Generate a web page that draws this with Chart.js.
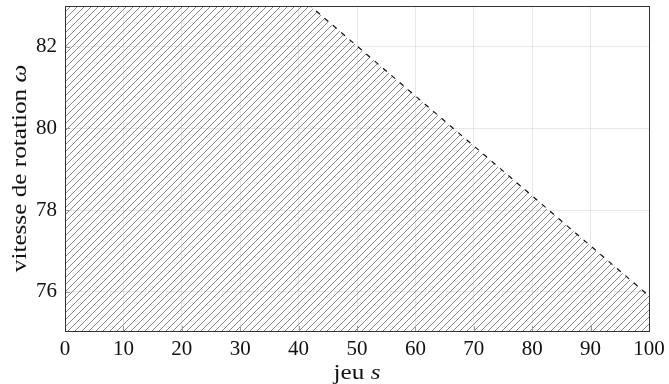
<!DOCTYPE html>
<html>
<head>
<meta charset="utf-8">
<script src="https://cdn.jsdelivr.net/npm/chart.js@4"></script>
<style>
  html, body { margin: 0; padding: 0; background: #fff; }
  #wrap { width: 669px; height: 384px; }
</style>
</head>
<body>
<div id="wrap"><canvas id="chart" width="669" height="384"></canvas></div>
<script>
// limite de la zone hachurée (jeu s -> vitesse ω)
const jeu = [0, 42, 100];
const vitesse = [83, 83, 75.9];
const xTicks = [0, 10, 20, 30, 40, 50, 60, 70, 80, 90, 100];
const yTicks = [76, 78, 80, 82];
const xTitle = ['jeu ', 's'];
const yTitle = ['vitesse de rotation ', 'ω'];

const FONT = '"Liberation Serif", "DejaVu Serif", serif';

// motif "north east lines"
function makeHatch() {
    const size = 7;
    const c = document.createElement('canvas');
    c.width = size; c.height = size;
    const g = c.getContext('2d');
    g.strokeStyle = '#7a7a7a';
    g.lineWidth = 0.9;
    g.beginPath();
    g.moveTo(-1, size + 1); g.lineTo(size + 1, -1);
    g.moveTo(-1, 1); g.lineTo(1, -1);
    g.moveTo(size - 1, size + 1); g.lineTo(size + 1, size - 1);
    g.stroke();
    return g.createPattern(c, 'repeat');
}

// texte avec une partie en italique, étiré horizontalement (aspect Computer Modern)
function mixedText(ctx, parts, cx, cy, size, stretch) {
    const normal = size + 'px ' + FONT, ital = 'italic ' + size + 'px ' + FONT;
    ctx.font = normal;
    const w1 = ctx.measureText(parts[0]).width;
    ctx.font = ital;
    const w2 = ctx.measureText(parts[1]).width;
    ctx.save();
    ctx.translate(cx, cy);
    ctx.scale(stretch, 1);
    const sx = -(w1 + w2) / 2;
    ctx.font = normal; ctx.fillText(parts[0], sx, 0);
    ctx.font = ital; ctx.fillText(parts[1], sx + w1, 0);
    ctx.restore();
}

// cadre, petites graduations internes et titres d'axes
const framePlugin = {
    id: 'frame',
    afterDatasetsDraw(chart) {
        const ctx = chart.ctx;
        const a = chart.chartArea;
        const x = chart.scales.x, y = chart.scales.y;
        ctx.save();
        ctx.strokeStyle = '#999';
        ctx.lineWidth = 1;
        ctx.beginPath();
        xTicks.forEach(v => {
            const px = Math.round(x.getPixelForValue(v)) + 0.5;
            ctx.moveTo(px, a.bottom); ctx.lineTo(px, a.bottom - 5);
        });
        yTicks.forEach(v => {
            const py = Math.round(y.getPixelForValue(v)) + 0.5;
            ctx.moveTo(a.left, py); ctx.lineTo(a.left + 5, py);
        });
        ctx.stroke();
        ctx.strokeStyle = '#333';
        ctx.strokeRect(Math.round(a.left) + 0.5, Math.round(a.top) + 0.5,
            Math.round(a.right - a.left), Math.round(a.bottom - a.top));
        ctx.restore();
    },
    afterDraw(chart) {
        const ctx = chart.ctx;
        const a = chart.chartArea;
        ctx.save();
        ctx.fillStyle = '#111';
        ctx.textBaseline = 'middle';
        mixedText(ctx, xTitle, (a.left + a.right) / 2, 373, 21, 1.2);
        ctx.translate(20, (a.top + a.bottom) / 2);
        ctx.rotate(-Math.PI / 2);
        mixedText(ctx, yTitle, 0, 0, 21, 1.2);
        ctx.restore();
    }
};

new Chart(document.getElementById('chart'), {
    type: 'line',
    data: {
        datasets: [{
            data: jeu.map((s, i) => ({ x: s, y: vitesse[i] })),
            borderColor: '#111',
            borderWidth: 1.2,
            borderDash: [5, 6],
            backgroundColor: makeHatch(),
            fill: 'start',
            pointRadius: 0,
            tension: 0
        }]
    },
    plugins: [framePlugin],
    options: {
        responsive: false,
        animation: false,
        devicePixelRatio: 1,
        layout: { padding: { top: 6, right: 20, left: 0, bottom: 0 } },
        plugins: { legend: { display: false }, tooltip: { enabled: false } },
        scales: {
            x: {
                type: 'linear',
                min: 0, max: 100,
                afterBuildTicks: s => { s.ticks = xTicks.map(v => ({ value: v })); },
                afterFit: s => { s.height = 53; s.paddingLeft = 0; s.paddingRight = 0; },
                border: { display: false },
                grid: { color: 'rgba(0,0,0,0.09)', drawTicks: false },
                ticks: { color: '#111', padding: 6, maxRotation: 0, font: { family: FONT, size: 21 } }
            },
            y: {
                type: 'linear',
                min: 75.04, max: 83,
                afterBuildTicks: s => { s.ticks = yTicks.map(v => ({ value: v })); },
                afterFit: s => { s.width = 65; s.paddingTop = 0; s.paddingBottom = 0; },
                border: { display: false },
                grid: { color: 'rgba(0,0,0,0.09)', drawTicks: false },
                ticks: { color: '#111', padding: 8, font: { family: FONT, size: 21 } }
            }
        }
    }
});
</script>
</body>
</html>
